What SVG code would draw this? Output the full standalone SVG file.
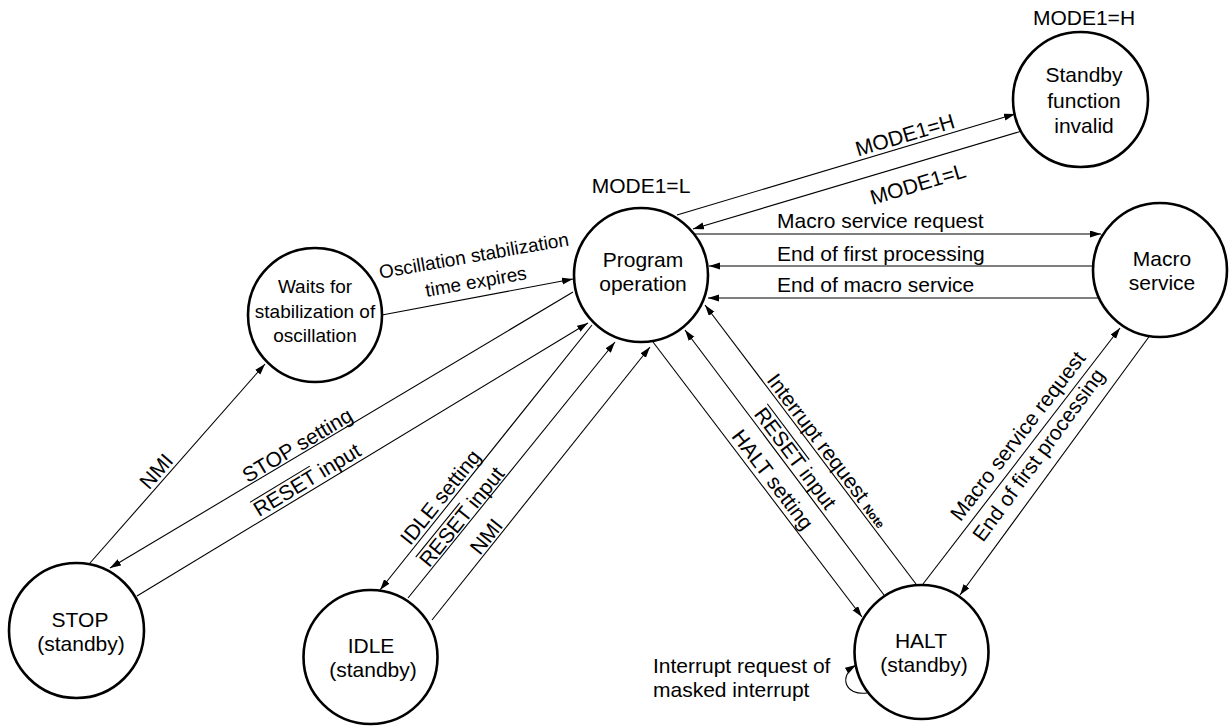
<svg xmlns="http://www.w3.org/2000/svg" width="1229" height="726" viewBox="0 0 1229 726">
<style>
text{font-family:"Liberation Sans",Arial,sans-serif;font-size:21px;fill:#000}
.node circle{fill:#fff;stroke:#000;stroke-width:2.6}
.c{text-anchor:middle}
.sm{font-size:19px}
#connectors line,#connectors path{fill:none;stroke:#000;stroke-width:1.1}
.ov{stroke:#000;stroke-width:1.1}
</style>
<defs>
<marker id="ah" markerUnits="userSpaceOnUse" markerWidth="12" markerHeight="8" refX="11" refY="3.5" orient="auto">
<path d="M0,0 L11,3.5 L0,7 z" fill="#000"/>
</marker>
</defs>
<g id="connectors">
<line x1="677" y1="215" x2="1015" y2="114" marker-end="url(#ah)"/>
<line x1="1022" y1="131" x2="693" y2="229" marker-end="url(#ah)"/>
<line x1="695" y1="234" x2="1101" y2="234" marker-end="url(#ah)"/>
<path d="M1101,235 C1120,238 1124,262 1104,266" marker-end="url(#ah)"/>
<line x1="1104" y1="266" x2="709" y2="266" marker-end="url(#ah)"/>
<path d="M1124,322 C1130,306 1124,298 1106,298" marker-end="url(#ah)"/>
<line x1="1106" y1="298" x2="708" y2="298" marker-end="url(#ah)"/>
<line x1="923" y1="584" x2="1120" y2="328" marker-end="url(#ah)"/>
<path d="M1122,323 C1128,308 1150,308 1151,333" marker-end="url(#ah)"/>
<line x1="1151" y1="334" x2="960" y2="595" marker-end="url(#ah)"/>
<line x1="916" y1="584" x2="705" y2="305" marker-end="url(#ah)"/>
<line x1="884" y1="595" x2="685" y2="330" marker-end="url(#ah)"/>
<line x1="653" y1="342" x2="862" y2="617" marker-end="url(#ah)"/>
<path d="M867,693 C845,696 838,676 856,665" marker-end="url(#ah)"/>
<line x1="592" y1="325" x2="380" y2="590" marker-end="url(#ah)"/>
<line x1="408" y1="598" x2="615" y2="342" marker-end="url(#ah)"/>
<line x1="432" y1="620" x2="650" y2="347" marker-end="url(#ah)"/>
<line x1="573" y1="292" x2="110" y2="568" marker-end="url(#ah)"/>
<line x1="137" y1="596" x2="588" y2="323" marker-end="url(#ah)"/>
<line x1="90" y1="563" x2="265" y2="364" marker-end="url(#ah)"/>
<line x1="382" y1="315" x2="573" y2="279" marker-end="url(#ah)"/>
</g>
<g id="labels">
<text class="c" transform="translate(907,142) rotate(-16.6)">MODE1=H</text>
<text class="c" transform="translate(920,191) rotate(-16.6)">MODE1=L</text>
<text x="777" y="228">Macro service request</text>
<text x="777" y="261">End of first processing</text>
<text x="777" y="292">End of macro service</text>
<text class="c sm" transform="translate(475,262) rotate(-10)">Oscillation stabilization</text>
<text class="c sm" transform="translate(477,288) rotate(-10)">time expires</text>
<text class="c" transform="translate(161.6,476) rotate(-48.7)">NMI</text>
<text class="c" transform="translate(301,451.4) rotate(-30.8)">STOP setting</text>
<g transform="translate(310.7,486) rotate(-31.2)"><text x="-60.5" y="0">RESET input</text><line class="ov" x1="-60.5" y1="-17.5" x2="9.5" y2="-17.5"/></g>
<text class="c" transform="translate(446,501.7) rotate(-51.3)">IDLE setting</text>
<g transform="translate(467.4,521.2) rotate(-51)"><text x="-60.5" y="0">RESET input</text><line class="ov" x1="-60.5" y1="-17.5" x2="9.5" y2="-17.5"/></g>
<text class="c" transform="translate(492,541) rotate(-51.4)">NMI</text>
<text class="c" transform="translate(767,484) rotate(52.75)">HALT setting</text>
<g transform="translate(789.6,462.6) rotate(53.1)"><text x="-60.5" y="0">RESET input</text><line class="ov" x1="-60.5" y1="-17.5" x2="9.5" y2="-17.5"/></g>
<text transform="translate(765.9,380.6) rotate(52.9)">Interrupt request <tspan style="font-size:12px;font-weight:bold">Note</tspan></text>
<text class="c" transform="translate(1023.5,440.3) rotate(-52.4)">Macro service request</text>
<text class="c" transform="translate(1044.4,459.2) rotate(-53.8)">End of first processing</text>
<text x="653" y="673">Interrupt request of</text>
<text x="653" y="697">masked interrupt</text>
<text class="c" x="641" y="193">MODE1=L</text>
<text class="c" x="1084" y="25">MODE1=H</text>
</g>
<g id="program" class="node"><circle cx="641" cy="275" r="67"/><text class="c" x="643" y="267">Program</text><text class="c" x="643" y="291">operation</text></g>
<g id="standby-invalid" class="node"><circle cx="1080.5" cy="99.5" r="67.5"/><text class="c" x="1084" y="82">Standby</text><text class="c" x="1084" y="108">function</text><text class="c" x="1084" y="133">invalid</text></g>
<g id="macro" class="node"><circle cx="1160" cy="270" r="67"/><text class="c" x="1162" y="266">Macro</text><text class="c" x="1162" y="290">service</text></g>
<g id="waits" class="node"><circle cx="315" cy="315" r="67"/><text class="c sm" x="315" y="293">Waits for</text><text class="c sm" x="315" y="318">stabilization of</text><text class="c sm" x="315" y="342">oscillation</text></g>
<g id="stop" class="node"><circle cx="76.5" cy="630.5" r="67.5"/><text class="c" x="80" y="627">STOP</text><text class="c" x="81" y="651">(standby)</text></g>
<g id="idle" class="node"><circle cx="370.5" cy="657" r="67"/><text class="c" x="371" y="653">IDLE</text><text class="c" x="373" y="677">(standby)</text></g>
<g id="halt" class="node"><circle cx="921.5" cy="652" r="67"/><text class="c" x="921" y="648">HALT</text><text class="c" x="924" y="672">(standby)</text></g>
</svg>
